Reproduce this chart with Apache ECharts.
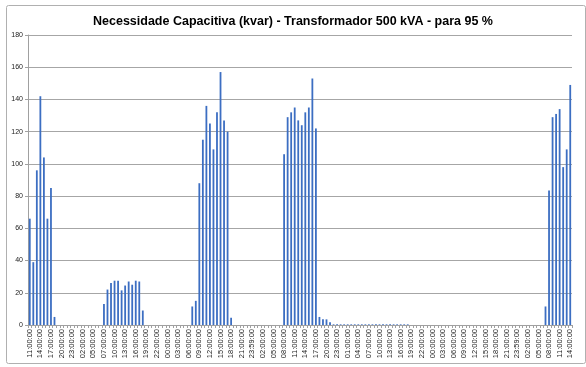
<!DOCTYPE html>
<html>
<head>
<meta charset="utf-8">
<script src="https://cdn.jsdelivr.net/npm/echarts@6/dist/echarts.min.js"></script>
<style>
html,body{margin:0;padding:0;background:#fff;}
#c{width:586px;height:367px;}
</style>
</head>
<body>
<div id="c"></div>
<script>
const titleText = "Necessidade Capacitiva (kvar) - Transformador 500 kVA - para 95 %";

const categories = [
"11:00:00","12:00:00","13:00:00","14:00:00","15:00:00","16:00:00","17:00:00","18:00:00","19:00:00","20:00:00","21:00:00","22:00:00","23:00:00",
"00:00:00","01:00:00","02:00:00","03:00:00","04:00:00","05:00:00","06:00:00","06:30:00","07:00:00",
"08:00:00","09:00:00","10:00:00","11:00:00","12:00:00","13:00:00","14:00:00","15:00:00","16:00:00","17:00:00","18:00:00","19:00:00","20:00:00","21:00:00","22:00:00","23:00:00",
"23:59:00","00:00:00",
"01:00:00","02:00:00","03:00:00","04:00:00","05:00:00","06:00:00","07:00:00","08:00:00","09:00:00","10:00:00","11:00:00","12:00:00","13:00:00","14:00:00","15:00:00","16:00:00","17:00:00","18:00:00","19:00:00","20:00:00","21:00:00","22:00:00","23:00:00",
"23:59:00","00:00:00",
"01:00:00","02:00:00","03:00:00","04:00:00","05:00:00","06:00:00","07:00:00","08:00:00","09:00:00","10:00:00","11:00:00","12:00:00","13:00:00","14:00:00","15:00:00","16:00:00","17:00:00","18:00:00","19:00:00","20:00:00","21:00:00","22:00:00","23:00:00",
"23:59:00","00:00:00",
"01:00:00","02:00:00","03:00:00","04:00:00","05:00:00","06:00:00","07:00:00","08:00:00","09:00:00","10:00:00","11:00:00","12:00:00","13:00:00","14:00:00","15:00:00","16:00:00","17:00:00","18:00:00","19:00:00","20:00:00","21:00:00","22:00:00","23:00:00",
"23:59:00","00:00:00",
"01:00:00","02:00:00","03:00:00","04:00:00","05:00:00","06:00:00","07:00:00","08:00:00","09:00:00","10:00:00","11:00:00","12:00:00","13:00:00","14:00:00","15:00:00","16:00:00","17:00:00","18:00:00","19:00:00","20:00:00","21:00:00","22:00:00","23:00:00",
"23:59:00","00:00:00",
"01:00:00","02:00:00","03:00:00","04:00:00","05:00:00","06:00:00","07:00:00","08:00:00","09:00:00","10:00:00","11:00:00","12:00:00","13:00:00","14:00:00"
];

const kvar = [
66,39,96,142,104,66,85,5,
0,0,0,0,0,0,0,0,0,0,0,0,0,
13,22,26,27.5,27.5,21.5,24.5,27,25,27.5,27,9,
0,0,0,0,0,0,0,0,0,0,0,0,0,
11.5,15,88,115,136,125,109,132,157,127,120,4.5,
0,0,0,0,0,0,0,0,0,0,0,0,0,0,
106,129,132,135,127,124,132,135,153,122,5,3.5,3.5,1.7,
0.4,0.4,0.4,0.4,0.4,0.4,0.4,0.4,0.4,0.4,0.4,0.4,0.4,0.4,0.4,0.4,0.4,0.4,0.4,0.4,0.4,0.4,
0,0,0,0,0,0,0,0,0,0,0,0,0,0,0,0,0,0,0,0,0,0,0,0,0,0,0,0,0,0,0,0,0,0,0,0,0,0,
11.5,83.5,129,131,134,98,109,149
];

const yMin = 0, yMax = 180, yStep = 20;

const chart = echarts.init(document.getElementById('c'), null, {renderer:'canvas'});
chart.setOption({
  animation:false,
  backgroundColor:'#ffffff',
  graphic:[{
    type:'rect', left:4, top:3, shape:{width:579, height:358, r:2},
    style:{fill:'none', stroke:'#b0b0b0', lineWidth:1}, silent:true
  }],
  title:{
    text:titleText, left:'center', top:10,
    textStyle:{fontFamily:'Liberation Sans, sans-serif', fontWeight:'bold', fontSize:12.5, color:'#000'}
  },
  grid:{left:28, right:14, top:35, bottom:42, containLabel:false},
  xAxis:{
    type:'category', data:categories,
    axisLine:{lineStyle:{color:'#a0a0a0', width:1}},
    axisTick:{show:true, interval:0, length:3, lineStyle:{color:'#a0a0a0'}},
    axisLabel:{interval:2, rotate:90, fontSize:7.5, margin:4, color:'#222', fontFamily:'Liberation Sans, sans-serif'},
    splitLine:{show:false}
  },
  yAxis:{
    type:'value', min:yMin, max:yMax, interval:yStep,
    axisLine:{show:true, lineStyle:{color:'#a0a0a0'}},
    axisTick:{show:true, length:3, lineStyle:{color:'#a0a0a0'}},
    axisLabel:{fontSize:7, color:'#222', margin:5, fontFamily:'Liberation Sans, sans-serif'},
    splitLine:{lineStyle:{color:'#a6a6a6', width:1}}
  },
  series:[{
    type:'bar', data:kvar, barWidth:1.8,
    itemStyle:{color:'#3c6ec2'}
  }]
});
</script>
</body>
</html>
